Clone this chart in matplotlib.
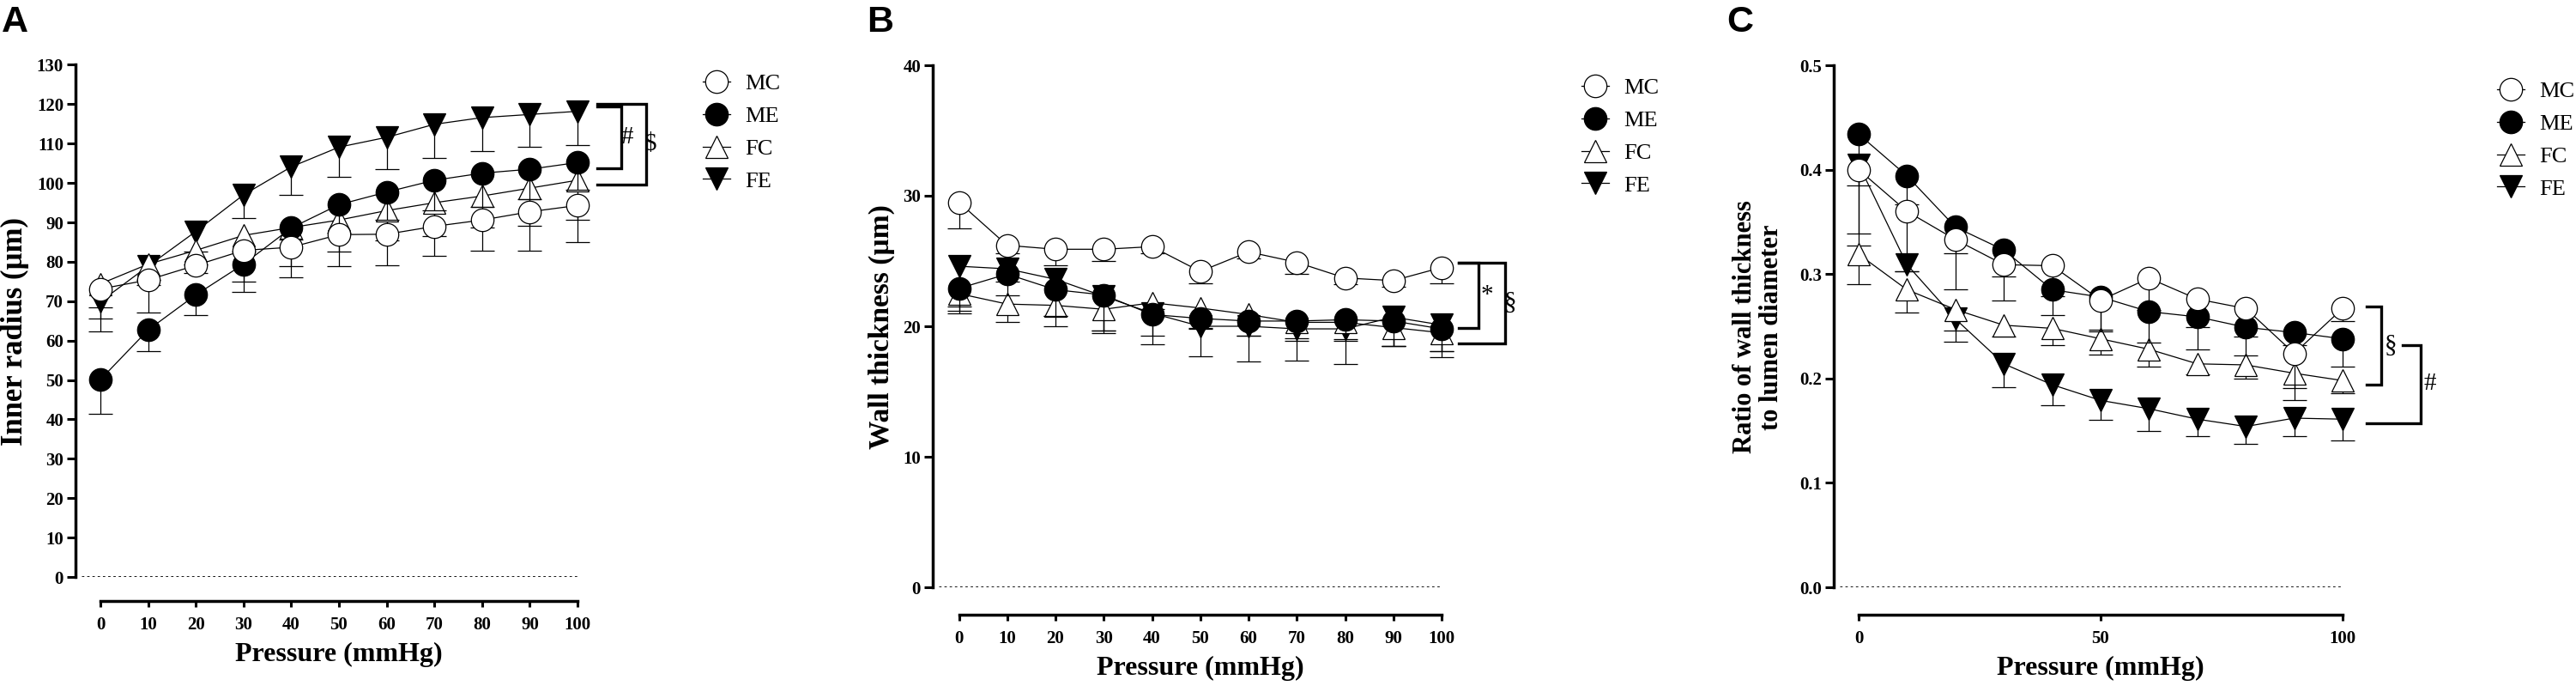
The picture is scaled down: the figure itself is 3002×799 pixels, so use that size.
import numpy as np
import matplotlib
matplotlib.use("Agg")
import matplotlib.pyplot as plt
from matplotlib.lines import Line2D

plt.rcParams['font.family'] = ['Liberation Serif', 'DejaVu Serif']

W, H = 3002, 799

pressure = np.arange(0, 101, 10)
groups = ['MC', 'ME', 'FC', 'FE']

# A: inner radius (um), mean and SEM (bars drawn downward)
radius_mean = {
    'MC': [73.1, 75.4, 79.1, 82.9, 83.7, 86.9, 87.0, 89.0, 90.6, 92.7, 94.3],
    'ME': [50.1, 62.7, 71.6, 79.4, 88.6, 94.5, 97.7, 100.7, 102.5, 103.5, 105.2],
    'FC': [74.4, 79.4, 82.9, 86.7, 88.7, 90.6, 93.0, 95.0, 96.7, 98.7, 100.7],
    'FE': [69.9, 78.9, 87.7, 97.0, 104.1, 109.1, 111.6, 114.9, 116.6, 117.4, 118.2],
}
radius_sem = {
    'MC': [7.4, 8.2, 1.9, 7.9, 7.6, 7.9, 7.8, 7.6, 7.7, 9.9, 9.2],
    'ME': [8.6, 5.4, 5.1, 7.0, 9.8, 7.0, 7.0, 7.6, 8.5, 7.5, 7.0],
    'FC': [5.9, 5.3, 3.5, 4.0, 3.0, 7.9, 7.6, 8.5, 8.1, 9.5, 10.1],
    'FE': [7.5, 3.5, 5.0, 5.9, 7.1, 7.6, 8.0, 8.5, 8.5, 8.3, 8.6],
}

# B: wall thickness (um)
wall_mean = {
    'MC': [29.5, 26.2, 25.9, 25.9, 26.1, 24.2, 25.7, 24.9, 23.7, 23.5, 24.5],
    'ME': [22.9, 24.0, 22.8, 22.4, 20.9, 20.6, 20.4, 20.4, 20.5, 20.4, 19.8],
    'FC': [22.5, 21.7, 21.6, 21.3, 21.8, 21.4, 20.9, 20.3, 20.3, 19.9, 19.5],
    'FE': [24.6, 24.4, 23.6, 22.3, 21.0, 20.0, 20.0, 19.8, 19.8, 20.7, 20.1],
}
wall_sem = {
    'MC': [2.0, 0.6, 1.2, 0.9, 0.5, 0.9, 0.5, 0.9, 0.5, 0.5, 1.2],
    'ME': [1.7, 1.6, 2.0, 2.7, 2.3, 0.8, 1.1, 1.3, 1.5, 1.9, 1.7],
    'FC': [1.5, 1.4, 1.6, 1.8, 0.5, 1.5, 1.6, 1.4, 1.4, 1.4, 1.4],
    'FE': [3.1, 1.0, 2.8, 2.6, 1.7, 2.3, 2.7, 2.4, 2.7, 2.2, 2.5],
}

# C: wall thickness / lumen diameter
ratio_mean = {
    'MC': [0.400, 0.360, 0.333, 0.309, 0.308, 0.275, 0.296, 0.276, 0.267, 0.224, 0.267],
    'ME': [0.434, 0.394, 0.345, 0.323, 0.285, 0.278, 0.264, 0.259, 0.249, 0.244, 0.238],
    'FC': [0.319, 0.285, 0.266, 0.251, 0.248, 0.238, 0.228, 0.214, 0.213, 0.205, 0.198],
    'FE': [0.405, 0.309, 0.257, 0.214, 0.194, 0.179, 0.171, 0.161, 0.154, 0.162, 0.161],
}
ratio_sem = {
    'MC': [0.061, 0.057, 0.048, 0.034, 0.029, 0.030, 0.030, 0.027, 0.027, 0.033, 0.012],
    'ME': [0.049, 0.027, 0.025, 0.025, 0.024, 0.031, 0.030, 0.031, 0.027, 0.012, 0.027],
    'FC': [0.029, 0.022, 0.020, 0.011, 0.016, 0.015, 0.017, 0.010, 0.013, 0.026, 0.012],
    'FE': [0.078, 0.006, 0.022, 0.022, 0.020, 0.019, 0.021, 0.016, 0.017, 0.017, 0.020],
}

style = {
    'MC': dict(marker='o', mfc='white'),
    'ME': dict(marker='o', mfc='black'),
    'FC': dict(marker='^', mfc='white'),
    'FE': dict(marker='v', mfc='black'),
}
draw_order = ['FE', 'FC', 'ME', 'MC']

# layout in pixels: y-axis x, x=0 px, x=100 px, y top px, y zero px, x spine px
panels = [
    dict(letter='A', left=88, x0=117, x100=673, top=75.5, bot=672, xsp=700,
         ymax=130, yticks=np.arange(0, 131, 10), ylabels=None,
         xticks=np.arange(0, 101, 10), mean=radius_mean, sem=radius_sem,
         ylabel='Inner radius (µm)', ylab_size=25, ylab_x=17, ylab_y=386,
         letter_x=2, leg=(819, 86),
         brackets=[(104.1, 104.1, 109.2, 119.5, 103.7, '#', 110.3),
                   (104.1, 104.1, 114.4, 120.1, 99.5, r'\$', 115.2)]),
    dict(letter='B', left=1087, x0=1117.5, x100=1680, top=76, bot=684, xsp=716,
         ymax=40, yticks=np.arange(0, 41, 10), ylabels=None,
         xticks=np.arange(0, 101, 10), mean=wall_mean, sem=wall_sem,
         ylabel='Wall thickness (µm)', ylab_size=24, ylab_x=1027, ylab_y=381,
         letter_x=1010, leg=(1843, 91),
         brackets=[(103.6, 103.6, 107.7, 24.85, 19.86, '*', 109.4),
                   (103.6, 103.6, 113.2, 24.85, 18.7, '§', 114.3)]),
    dict(letter='C', left=2137, x0=2166, x100=2730, top=76, bot=684, xsp=716,
         ymax=0.5, yticks=np.round(np.arange(0, 0.51, 0.1), 1),
         ylabels=['0.0', '0.1', '0.2', '0.3', '0.4', '0.5'],
         xticks=[0, 50, 100], mean=ratio_mean, sem=ratio_sem,
         ylabel='Ratio of wall thickness\nto lumen diameter', ylab_size=22,
         ylab_x=2049, ylab_y=381,
         letter_x=2012, leg=(2910, 95),
         brackets=[(104.96, 104.96, 107.98, 0.269, 0.194, '§', 109.9),
                   (112.4, 104.96, 116.1, 0.232, 0.157, '#', 118.0)]),
]

fig = plt.figure(figsize=(W / 100, H / 100), dpi=100)

for p in panels:
    ppu = (p['x100'] - p['x0']) / 100.0
    xlo = -(p['x0'] - p['left']) / ppu
    xhi = 105
    right = p['x0'] + xhi * ppu
    ax = fig.add_axes([p['left'] / W, 1 - p['bot'] / H,
                       (right - p['left']) / W, (p['bot'] - p['top']) / H])
    ax.set_xlim(xlo, xhi)
    ax.set_ylim(0, p['ymax'])

    for z, g in enumerate(draw_order):
        m = np.array(p['mean'][g])
        s = np.array(p['sem'][g])
        zz = 3 + z
        ax.errorbar(pressure, m, yerr=[s, np.zeros_like(s)], fmt='none',
                    ecolor='black', elinewidth=0.9, capsize=0, zorder=zz, clip_on=False)
        ax.plot(pressure, m - s, ls='none', marker='_', ms=20, mew=0.9,
                color='black', zorder=zz, clip_on=False)
        ax.plot(pressure, m, color='black', lw=0.9, ms=19, mec='black', mew=0.9,
                zorder=zz + 0.5, clip_on=False, **style[g])

    ax.hlines(0, xlo + 1.2, pressure[-1], colors='black', linestyles=(0, (1, 1.2)),
              lw=2.0, zorder=2)

    for (xl_top, xl_bot, xv, yt, yb, sym, xs) in p['brackets']:
        ax.plot([xl_top, xv, xv, xl_bot], [yt, yt, yb, yb], color='black',
                lw=2.4, clip_on=False, solid_joinstyle='miter')
        ax.text(xs, (yt + yb) / 2, sym, fontsize=21, ha='center', va='center',
                clip_on=False)

    for side in ['top', 'right']:
        ax.spines[side].set_visible(False)
    ax.spines['left'].set_linewidth(2.5)
    ax.spines['bottom'].set_linewidth(2.5)
    ax.spines['bottom'].set_position(('outward', (p['xsp'] - p['bot']) * 0.72))
    ax.spines['bottom'].set_bounds(0, 100)
    ax.spines['left'].set_bounds(0, p['ymax'])

    ax.set_yticks(p['yticks'])
    if p['ylabels'] is not None:
        ax.set_yticklabels(p['ylabels'])
    ax.set_xticks(p['xticks'])
    ax.tick_params(axis='both', direction='out', length=7, width=2.2,
                   labelsize=15, pad=3)
    ax.tick_params(axis='x', length=5, pad=8)
    for lab in ax.get_xticklabels() + ax.get_yticklabels():
        lab.set_fontweight('bold')

    xc = (p['x0'] + p['x100']) / 2
    fig.text(xc / W, 1 - (p['xsp'] + 62) / H, 'Pressure (mmHg)', fontsize=23,
             fontweight='bold', ha='center', va='center')
    fig.text(p['ylab_x'] / W, 1 - p['ylab_y'] / H, p['ylabel'], fontsize=p['ylab_size'],
             fontweight='bold', rotation=90, ha='center', va='center',
             linespacing=1.1, multialignment='center')
    fig.text(p['letter_x'] / W, 1 - 6 / H, p['letter'], fontsize=31,
             fontweight='bold', family='Liberation Sans', ha='left', va='top')

    handles = [Line2D([], [], color='black', lw=0.9, ms=19, mec='black', mew=0.9,
                      **style[g]) for g in groups]
    ax.legend(handles, groups, loc='upper left',
              bbox_to_anchor=(p['leg'][0] / W, 1 - p['leg'][1] / H),
              bbox_transform=fig.transFigure, frameon=False, fontsize=19,
              handlelength=1.2, handletextpad=0.65, labelspacing=0.54,
              borderpad=0, borderaxespad=0)

fig.savefig('out.png', dpi=100)
